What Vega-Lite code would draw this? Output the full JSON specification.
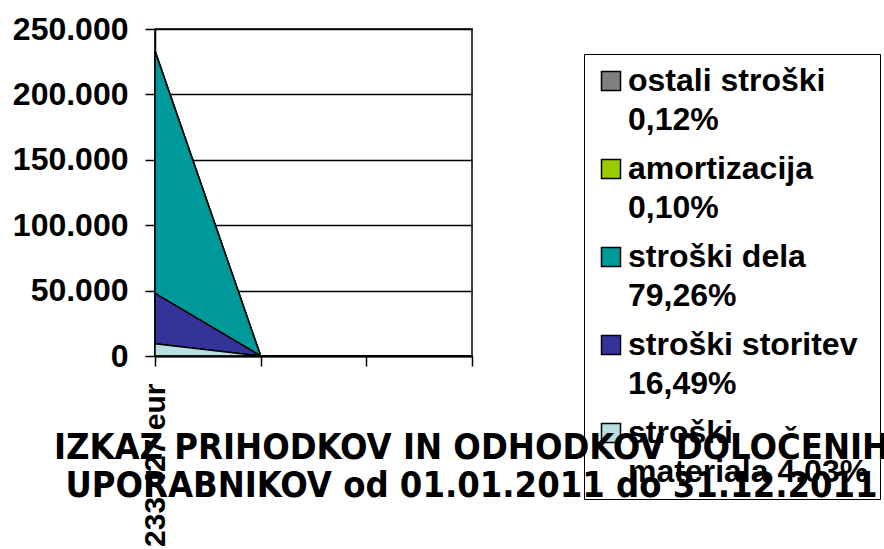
{
  "$schema": "https://vega.github.io/schema/vega-lite/v6.json",
  "autosize": {"type": "none"},
  "width": 317,
  "height": 327,
  "padding": {"left": 155, "top": 29, "right": 412, "bottom": 193},
  "background": "white",
  "config": {
    "locale": {"number": {"decimal": ",", "thousands": ".", "grouping": [3], "currency": ["", " €"]}},
    "view": {"stroke": "black", "strokeWidth": 1.5},
    "font": "Liberation Sans"
  },
  "title": {
    "text": ["IZKAZ PRIHODKOV IN ODHODKOV DOLOČENIH", "UPORABNIKOV od 01.01.2011 do 31.12.2011"],
    "orient": "top",
    "anchor": "middle",
    "frame": "group",
    "font": "DejaVu Sans Condensed, Liberation Sans, sans-serif",
    "fontSize": 36,
    "fontWeight": "bold",
    "lineHeight": 38,
    "color": "black",
    "baseline": "top",
    "offset": 0,
    "dx": 158,
    "dy": 492,
    "zindex": 1
  },
  "data": {
    "values": [
      {"kategorija": "233.427 eur", "vrsta": "ostali stroški\n0,12%", "red": 5, "znesek": 280},
      {"kategorija": "233.427 eur", "vrsta": "amortizacija\n0,10%", "red": 4, "znesek": 233},
      {"kategorija": "233.427 eur", "vrsta": "stroški dela\n79,26%", "red": 3, "znesek": 185014},
      {"kategorija": "233.427 eur", "vrsta": "stroški storitev\n16,49%", "red": 2, "znesek": 38492},
      {"kategorija": "233.427 eur", "vrsta": "stroški\nmateriala 4,03%", "red": 1, "znesek": 9407},
      {"kategorija": " ", "vrsta": "ostali stroški\n0,12%", "red": 5, "znesek": 0},
      {"kategorija": " ", "vrsta": "amortizacija\n0,10%", "red": 4, "znesek": 0},
      {"kategorija": " ", "vrsta": "stroški dela\n79,26%", "red": 3, "znesek": 0},
      {"kategorija": " ", "vrsta": "stroški storitev\n16,49%", "red": 2, "znesek": 0},
      {"kategorija": " ", "vrsta": "stroški\nmateriala 4,03%", "red": 1, "znesek": 0},
      {"kategorija": "  ", "vrsta": "ostali stroški\n0,12%", "red": 5, "znesek": 0},
      {"kategorija": "  ", "vrsta": "amortizacija\n0,10%", "red": 4, "znesek": 0},
      {"kategorija": "  ", "vrsta": "stroški dela\n79,26%", "red": 3, "znesek": 0},
      {"kategorija": "  ", "vrsta": "stroški storitev\n16,49%", "red": 2, "znesek": 0},
      {"kategorija": "  ", "vrsta": "stroški\nmateriala 4,03%", "red": 1, "znesek": 0},
      {"kategorija": "   ", "vrsta": "ostali stroški\n0,12%", "red": 5, "znesek": 0},
      {"kategorija": "   ", "vrsta": "amortizacija\n0,10%", "red": 4, "znesek": 0},
      {"kategorija": "   ", "vrsta": "stroški dela\n79,26%", "red": 3, "znesek": 0},
      {"kategorija": "   ", "vrsta": "stroški storitev\n16,49%", "red": 2, "znesek": 0},
      {"kategorija": "   ", "vrsta": "stroški\nmateriala 4,03%", "red": 1, "znesek": 0}
    ]
  },
  "mark": {"type": "area", "stroke": "black", "strokeWidth": 1.5, "opacity": 1, "strokeJoin": "miter"},
  "encoding": {
    "x": {
      "field": "kategorija",
      "type": "ordinal",
      "sort": null,
      "scale": {"type": "point", "padding": 0, "domain": ["233.427 eur", " ", "  ", "   "]},
      "axis": {
        "title": null,
        "labelAngle": 270,
        "labelAlign": "right",
        "labelBaseline": "middle",
        "labelFont": "Liberation Sans",
        "labelFontSize": 30,
        "labelFontWeight": "bold",
        "labelColor": "black",
        "labelPadding": 17,
        "labelLimit": 400,
        "labelOverlap": false,
        "tickSize": 10,
        "tickColor": "black",
        "tickWidth": 1.5,
        "domainColor": "black",
        "domainWidth": 2,
        "grid": false,
        "zindex": 1
      }
    },
    "y": {
      "field": "znesek",
      "type": "quantitative",
      "stack": "zero",
      "scale": {"domain": [0, 250000], "nice": false},
      "axis": {
        "title": null,
        "values": [0, 50000, 100000, 150000, 200000, 250000],
        "format": ",.0f",
        "labelFont": "Liberation Sans",
        "labelFontSize": 32,
        "labelFontWeight": "bold",
        "labelColor": "black",
        "labelPadding": 17,
        "tickSize": 10,
        "tickColor": "black",
        "tickWidth": 1.5,
        "domainColor": "black",
        "domainWidth": 1.5,
        "grid": true,
        "gridColor": "black",
        "gridWidth": 1.5
      }
    },
    "order": {"field": "red", "type": "quantitative", "sort": "ascending"},
    "color": {
      "field": "vrsta",
      "type": "nominal",
      "sort": ["ostali stroški\n0,12%", "amortizacija\n0,10%", "stroški dela\n79,26%", "stroški storitev\n16,49%", "stroški\nmateriala 4,03%"],
      "scale": {
        "domain": ["ostali stroški\n0,12%", "amortizacija\n0,10%", "stroški dela\n79,26%", "stroški storitev\n16,49%", "stroški\nmateriala 4,03%"],
        "range": ["#808080", "#99CC00", "#009999", "#333399", "#B9DFE3"]
      },
      "legend": {
        "orient": "none",
        "legendX": 429,
        "legendY": 25,
        "title": null,
        "padding": 11,
        "strokeColor": "black",
        "symbolType": "square",
        "symbolSize": 361,
        "symbolStrokeColor": "black",
        "symbolStrokeWidth": 1.5,
        "symbolOpacity": 1,
        "labelFont": "Liberation Sans",
        "labelFontSize": 32,
        "labelFontWeight": "bold",
        "labelColor": "black",
        "labelOffset": 1,
        "labelLimit": 400,
        "labelExpr": "split(datum.label, '\\n')",
        "rowPadding": 17,
        "zindex": 1,
        "encode": {"labels": {"update": {"lineHeight": {"value": 39}}}}
      }
    }
  }
}
